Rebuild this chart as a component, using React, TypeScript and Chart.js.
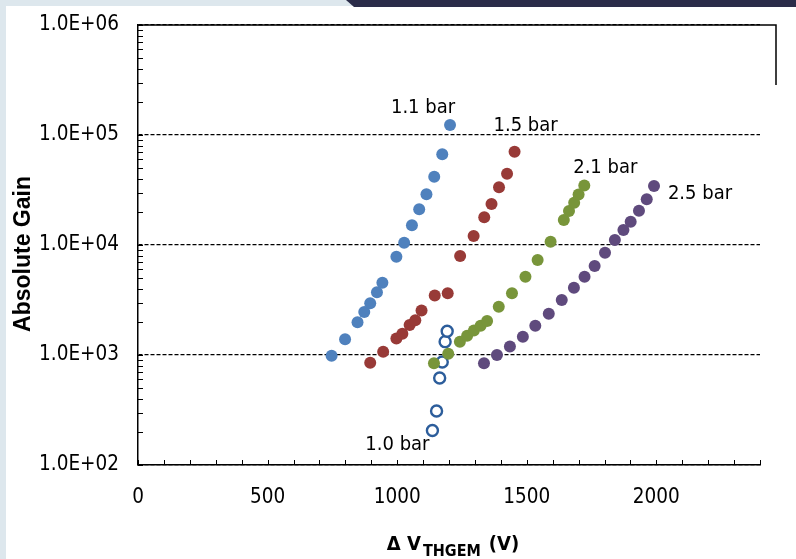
import React, { useEffect, useRef } from 'react';
import { Chart, registerables } from 'chart.js';

Chart.register(...registerables);

// THGEM gain curves: voltage across the THGEM (V) vs absolute gain, per gas pressure
const voltage10bar = [1136, 1152, 1164, 1174, 1185, 1193];
const gain10bar = [206, 310, 618, 863, 1322, 1642];

const voltage11bar = [747, 799, 847, 873, 896, 922, 943, 997, 1027, 1057, 1085, 1113, 1143, 1174, 1204];
const gain11bar = [986, 1390, 1983, 2460, 2950, 3715, 4540, 7830, 10500, 15100, 21100, 28900, 41800, 66800, 123000];

const voltage15bar = [896, 946, 997, 1020, 1048, 1070, 1094, 1145, 1195, 1243, 1295, 1336, 1364, 1393, 1424, 1453];
const gain15bar = [851, 1072, 1413, 1563, 1874, 2065, 2540, 3475, 3640, 7940, 12080, 17870, 23600, 33500, 44500, 70500];

const voltage21bar = [1142, 1197, 1242, 1270, 1296, 1322, 1347, 1392, 1443, 1495, 1542, 1592, 1643, 1663, 1683, 1700, 1722];
const gain21bar = [841, 1028, 1322, 1497, 1672, 1842, 2037, 2748, 3640, 5155, 7310, 10700, 16870, 20370, 24200, 28760, 34750];

const voltage25bar = [1335, 1385, 1435, 1485, 1533, 1585, 1635, 1682, 1723, 1762, 1802, 1840, 1873, 1901, 1933, 1963, 1991];
const gain25bar = [841, 1000, 1194, 1466, 1845, 2372, 3162, 4093, 5150, 6440, 8510, 11090, 13680, 16290, 20510, 26000, 34350];

const seriesNames = ['1.1 bar', '1.5 bar', '2.1 bar', '2.5 bar', '1.0 bar'];

// Axis ticks
const xMin = 0;
const xMax = 2400;
const xStep = 100;
const xLabelEvery = 500;
const yTickValues = [
  100, 200, 300, 400, 500, 600, 700, 800, 900,
  1000, 2000, 3000, 4000, 5000, 6000, 7000, 8000, 9000,
  10000, 20000, 30000, 40000, 50000, 60000, 70000, 80000, 90000,
  100000, 200000, 300000, 400000, 500000, 600000, 700000, 800000, 900000,
  1000000,
];

const FONT = '"Liberation Sans Narrow", "Arial Narrow", "DejaVu Sans Condensed", "Liberation Sans", Arial, sans-serif';

const W = 796;
const H = 559;
const AREA_LEFT = 138;
const AREA_TOP = 25;
const AREA_RIGHT = 760;
const AREA_BOTTOM = 465;

const pts = (xs: number[], ys: number[]) => xs.map((x, i) => ({ x, y: ys[i] }));

const isDecade = (v: number) => {
  const l = Math.log10(v);
  return Math.abs(l - Math.round(l)) < 1e-9;
};

const fmtExp = (v: number) => {
  const e = Math.round(Math.log10(v));
  return `1.0E+${String(e).padStart(2, '0')}`;
};

const decorPlugin = {
  id: 'decor',
  afterDraw(chart: any) {
    const { ctx, chartArea, scales } = chart;
    const xs = scales.x;
    const ys = scales.y;
    ctx.save();
    ctx.strokeStyle = '#000';
    ctx.lineWidth = 1;

    // inward tick marks on the left axis
    for (const v of yTickValues) {
      const py = Math.round(ys.getPixelForValue(v)) + 0.5;
      ctx.beginPath();
      ctx.moveTo(chartArea.left, py);
      ctx.lineTo(chartArea.left + 5, py);
      ctx.stroke();
    }
    // inward tick marks on the bottom axis
    for (let v = xMin; v <= xMax; v += xStep) {
      const px = Math.round(xs.getPixelForValue(v)) + 0.5;
      ctx.beginPath();
      ctx.moveTo(px, chartArea.bottom);
      ctx.lineTo(px, chartArea.bottom - 5);
      ctx.stroke();
    }

    // frame at the top and the short right edge
    ctx.lineWidth = 1.5;
    ctx.beginPath();
    ctx.moveTo(chartArea.left, chartArea.top);
    ctx.lineTo(776, chartArea.top);
    ctx.lineTo(776, 85);
    ctx.stroke();

    // series labels next to their curves
    ctx.fillStyle = '#000';
    ctx.font = `20px ${FONT}`;
    ctx.textAlign = 'center';
    ctx.textBaseline = 'middle';
    const label = (name: string, xv: number, yv: number, dx: number, dy: number) => {
      ctx.fillText(name, xs.getPixelForValue(xv) + dx, ys.getPixelForValue(yv) + dy);
    };
    const last = (a: number[]) => a[a.length - 1];
    label(seriesNames[0], last(voltage11bar), last(gain11bar), -27, -17);
    label(seriesNames[1], last(voltage15bar), last(gain15bar), 11, -26);
    label(seriesNames[2], last(voltage21bar), last(gain21bar), 21, -18);
    label(seriesNames[3], last(voltage25bar), last(gain25bar), 46, 8);
    label(seriesNames[4], voltage10bar[0], gain10bar[0], -35, 14);

    // y axis title
    ctx.save();
    ctx.translate(24, 254);
    ctx.rotate(-Math.PI / 2);
    ctx.font = `bold 23px "Liberation Sans", Arial, sans-serif`;
    ctx.fillText('Absolute Gain', 0, 0);
    ctx.restore();

    // x axis title with subscript
    ctx.textAlign = 'left';
    ctx.textBaseline = 'alphabetic';
    const mainFont = `bold 20px ${FONT}`;
    const subFont = `bold 16px ${FONT}`;
    ctx.font = mainFont;
    const p1 = 'Δ V';
    const w1 = ctx.measureText(p1).width;
    ctx.font = subFont;
    const p2 = 'THGEM';
    const w2 = ctx.measureText(p2).width;
    ctx.font = mainFont;
    const p3 = '(V)';
    const w3 = ctx.measureText(p3).width;
    const gap = 8;
    const total = w1 + 2 + w2 + gap + w3;
    let tx = 453 - total / 2;
    ctx.fillText(p1, tx, 550);
    tx += w1 + 2;
    ctx.font = subFont;
    ctx.fillText(p2, tx, 556);
    tx += w2 + gap;
    ctx.font = mainFont;
    ctx.fillText(p3, tx, 550);

    ctx.restore();
  },
};

export default function App() {
  const canvasRef = useRef<HTMLCanvasElement | null>(null);

  useEffect(() => {
    const canvas = canvasRef.current;
    if (!canvas) return;
    const dot = (color: string) => ({
      pointRadius: 6,
      pointHoverRadius: 6,
      pointBackgroundColor: color,
      pointBorderColor: color,
      pointBorderWidth: 0,
      showLine: false,
    });
    const chart = new Chart(canvas, {
      type: 'scatter',
      data: {
        datasets: [
          { label: seriesNames[0], data: pts(voltage11bar, gain11bar), ...dot('#4f81bd') },
          { label: seriesNames[1], data: pts(voltage15bar, gain15bar), ...dot('#983a37') },
          { label: seriesNames[2], data: pts(voltage21bar, gain21bar), ...dot('#78953a') },
          { label: seriesNames[3], data: pts(voltage25bar, gain25bar), ...dot('#5f4a7d') },
          {
            label: seriesNames[4],
            data: pts(voltage10bar, gain10bar),
            pointRadius: 5.5,
            pointHoverRadius: 5.5,
            pointBackgroundColor: '#ffffff',
            pointBorderColor: '#2c5d9b',
            pointBorderWidth: 2.4,
            showLine: false,
          },
        ],
      },
      options: {
        responsive: false,
        animation: false,
        events: [],
        layout: { padding: { left: 0, top: AREA_TOP, right: W - AREA_RIGHT, bottom: 0 } },
        plugins: { legend: { display: false }, tooltip: { enabled: false } },
        scales: {
          x: {
            type: 'linear',
            min: xMin,
            max: xMax,
            afterFit: (s: any) => {
              s.height = H - AREA_BOTTOM;
              s.paddingLeft = 0;
              s.paddingRight = 0;
            },
            ticks: {
              stepSize: xStep,
              autoSkip: false,
              maxRotation: 0,
              padding: 20,
              color: '#000',
              font: { family: FONT, size: 20.5 },
              callback: (v: any) => (Number(v) % xLabelEvery === 0 && Number(v) <= 2000 ? String(v) : ''),
            },
            grid: { display: false, drawTicks: false },
            border: { display: true, color: '#000', width: 1.5 },
          },
          y: {
            type: 'logarithmic',
            min: 100,
            max: 1000000,
            afterFit: (s: any) => {
              s.width = AREA_LEFT;
              s.paddingTop = 0;
              s.paddingBottom = 0;
            },
            afterBuildTicks: (s: any) => {
              s.ticks = yTickValues.map((value) => ({ value }));
            },
            ticks: {
              autoSkip: false,
              padding: 19,
              color: '#000',
              font: { family: FONT, size: 20.5 },
              callback: (v: any) => (isDecade(Number(v)) ? fmtExp(Number(v)) : ''),
            },
            grid: {
              drawTicks: false,
              lineWidth: 1.2,
              color: (c: any) => (c.tick && isDecade(c.tick.value) ? '#000' : 'rgba(0,0,0,0)'),
            },
            border: { display: true, color: '#000', width: 1.5, dash: [4, 2] },
          },
        },
      },
      plugins: [decorPlugin],
    } as any);
    return () => chart.destroy();
  }, []);

  return (
    <div style={{ position: 'fixed', left: 0, top: 0, width: W, height: H, background: '#dde7ed', overflow: 'hidden' }}>
      <div style={{ position: 'absolute', left: 6, top: 6, right: 0, bottom: 0, background: '#ffffff' }} />
      <div
        style={{
          position: 'absolute',
          left: 346,
          top: 0,
          right: 0,
          height: 7,
          background: '#2b2c49',
          clipPath: 'polygon(0 0, 100% 0, 100% 100%, 8px 100%)',
        }}
      />
      <canvas ref={canvasRef} width={W} height={H} style={{ position: 'absolute', left: 0, top: 0 }} />
    </div>
  );
}
